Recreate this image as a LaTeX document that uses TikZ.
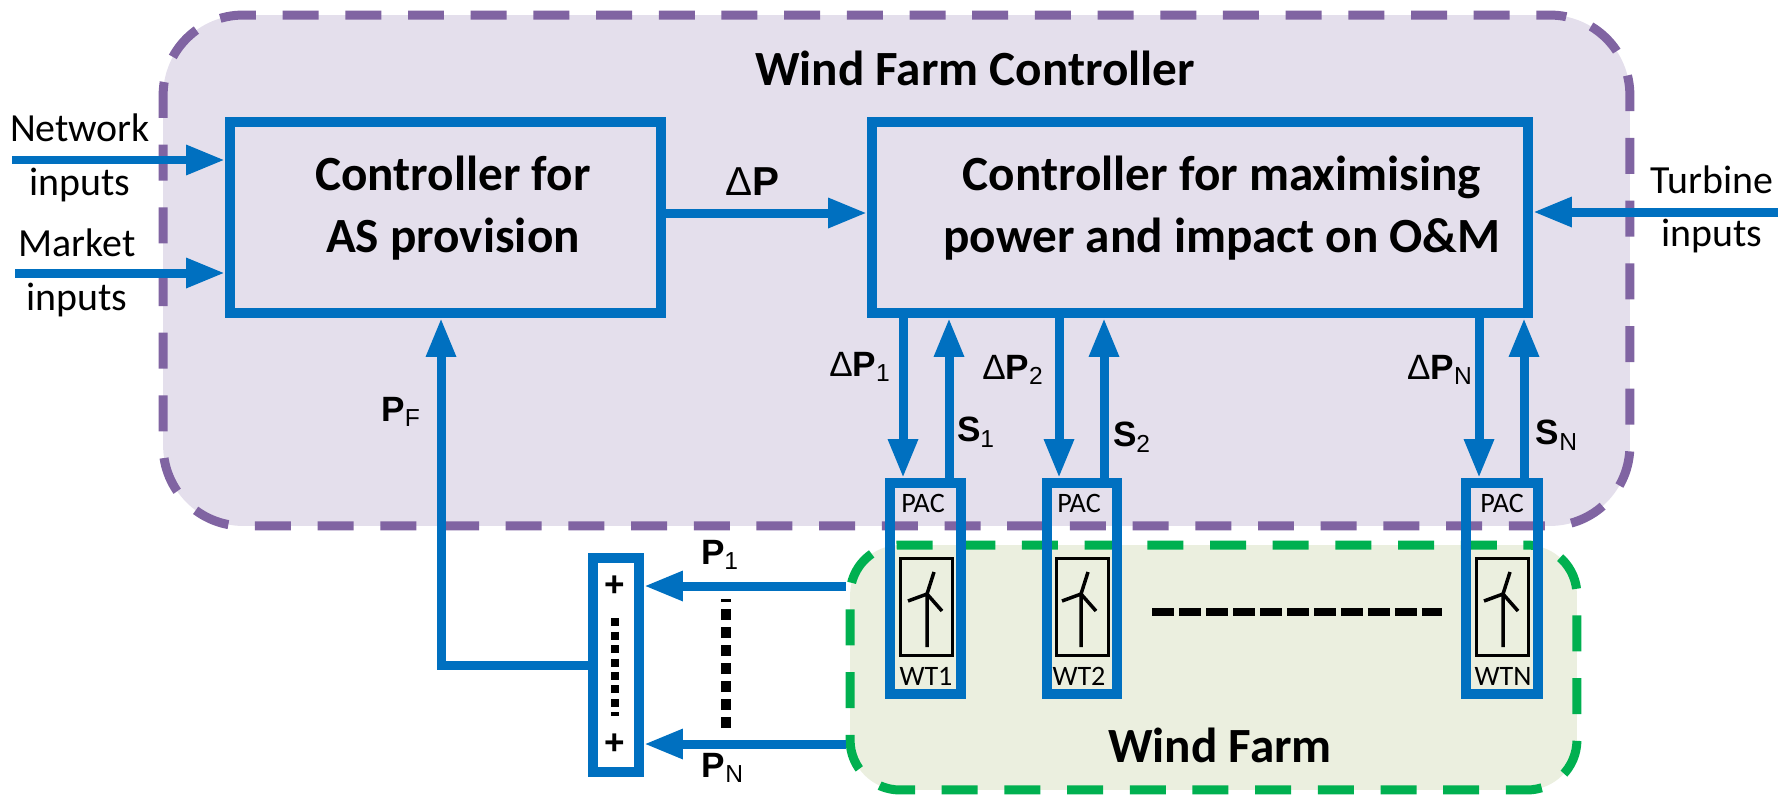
\documentclass[tikz,border=0pt]{standalone}
\usepackage{fontspec}
\setmainfont{Carlito}
\newfontfamily\arialfont{Liberation Sans}
\usepackage{xcolor}
\usetikzlibrary{arrows.meta}
\definecolor{acblue}{HTML}{0070C0}
\definecolor{acpurple}{HTML}{8064A2}
\definecolor{acgreen}{HTML}{00B050}
\definecolor{lilac}{HTML}{E4DFEC}
\definecolor{sage}{HTML}{EBEFDF}
\newcommand{\subs}[1]{\textsubscript{\mdseries #1}}
\tikzset{
  ctlarea/.style ={rectangle, rounded corners=1.6cm, draw=acpurple, fill=lilac, line width=0.18cm,
                   dash pattern=on 0.72cm off 0.534cm, dash phase=0.45cm},
  farmarea/.style={rectangle, rounded corners=1cm, draw=acgreen, fill=sage, line width=0.18cm,
                   dash pattern=on 0.72cm off 0.534cm, dash phase=0.65cm},
  blk/.style     ={rectangle, draw=acblue, line width=0.2cm, inner sep=0pt},
  wtbox/.style   ={rectangle, draw=black, line width=0.06cm, inner sep=0pt,
                   minimum width=1.04cm, minimum height=1.96cm},
  wtline/.style  ={draw=black, line width=0.07cm},
  arr/.style     ={-{Triangle[length=0.78cm,width=0.56cm]}, draw=acblue, line width=0.18cm},
  dotsum/.style  ={draw=black, line width=0.15cm, dash pattern=on 0.16cm off 0.11cm},
  dotgap/.style  ={draw=black, line width=0.2cm, dash pattern=on 0.22cm off 0.14cm},
  dotrow/.style  ={draw=black, line width=0.16cm, dash pattern=on 0.44cm off 0.1cm},
  txt/.style     ={align=center, inner sep=0pt, font=\fontsize{22.7}{26}\selectfont},
  head/.style    ={align=center, inner sep=0pt, font=\fontsize{28}{35.7}\selectfont\bfseries},
  lbl/.style     ={inner sep=0pt, font=\fontsize{20}{24}\selectfont\arialfont\bfseries},
  tiny/.style    ={inner sep=0pt, font=\fontsize{16}{18}\selectfont},
}
\begin{document}
\begin{tikzpicture}[x=0.02cm,y=-0.02cm]
  \useasboundingbox (0,0) rectangle (1787,794);

  % dashed areas
  \node[ctlarea, minimum width=29.34cm, minimum height=10.22cm] (wfc) at (896.5,270.5) {};
  \node[farmarea, minimum width=14.54cm, minimum height=4.9cm] (farm) at (1213.5,667.5) {};
  \node[head] (twfc) at (975,68) {Wind Farm Controller};
  \node[head] (tfarm) at (1220,745) {Wind Farm};

  % controllers
  \node[blk, minimum width=8.62cm, minimum height=3.82cm] (ctrlas) at (445.5,217.5) {};
  \node[blk, minimum width=13.12cm, minimum height=3.82cm] (ctrlmax) at (1200,217.5) {};
  \node[head] (tas) at (453,208) {Controller for\\AS provision};
  \node[head] (tmax) at (1222,208) {Controller for maximising\\power and impact on O\&M};

  % turbine columns
  \node[blk, minimum width=1.42cm, minimum height=4.22cm] (pac1) at (925.5,588.5) {};
  \node[blk, minimum width=1.40cm, minimum height=4.22cm] (pac2) at (1082,588.5) {};
  \node[blk, minimum width=1.44cm, minimum height=4.22cm] (pacn) at (1502,588.5) {};
  \node[tiny] (tpac1) at (923,503) {PAC};
  \node[tiny] (tpac2) at (1079,503) {PAC};
  \node[tiny] (tpacn) at (1502,503) {PAC};
  \node[tiny] (twt1) at (926,676) {WT1};
  \node[tiny] (twt2) at (1079,676) {WT2};
  \node[tiny] (twtn) at (1503,676) {WTN};
  \node[wtbox] (wt1) at (926,607) {};
  \node[wtbox] (wt2) at (1082,607) {};
  \node[wtbox] (wtn) at (1502,607) {};
  \draw[wtline] (927,647) -- ++(0,-53) coordinate (hub1) -- ++(7,-22) (hub1) -- ++(-19,7) (hub1) -- ++(15,17);
  \draw[wtline] (1081,647) -- ++(0,-53) coordinate (hub2) -- ++(7,-22) (hub2) -- ++(-19,7) (hub2) -- ++(15,17);
  \draw[wtline] (1503,647) -- ++(0,-53) coordinate (hubn) -- ++(7,-22) (hubn) -- ++(-19,7) (hubn) -- ++(15,17);
  \draw[dotrow] (1152,612) -- (1442,612);

  % summing block
  \node[blk, minimum width=0.92cm, minimum height=4.28cm] (sumbox) at (616,665) {};
  \node[lbl] (plus1) at (615,586) {+};
  \node[lbl] (plusn) at (615,744) {+};
  \draw[dotsum] (615,618) -- (615,716);
  \draw[dotgap] (726,728) -- (726,599);

  % inputs
  \coordinate (netin) at (12,160);
  \coordinate (mktin) at (15,273);
  \coordinate (turbin) at (1778,212);
  \draw[arr] (netin) -- (netin -| ctrlas.west);
  \draw[arr] (mktin) -- (mktin -| ctrlas.west);
  \draw[arr] (turbin) -- (turbin -| ctrlmax.east);
  \node[txt] (tnet) at (80,128) {Network};
  \node[txt] (tnetin) at (80,185) {inputs};
  \node[txt] (tmkt) at (77,243) {Market};
  \node[txt] (tmktin) at (77,300) {inputs};
  \node[txt] (ttur) at (1712,180) {Turbine};
  \node[txt] (tturin) at (1712,236) {inputs};

  % arrows
  \draw[arr] ([yshift=0.09cm]ctrlas.east) -- ([yshift=0.09cm]ctrlmax.west);
  \draw[arr] (sumbox.west) -| ([xshift=-0.09cm]ctrlas.south);
  \draw[arr] (plus1 -| farm.west) -- (plus1 -| sumbox.east);
  \draw[arr] (plusn -| farm.west) -- (plusn -| sumbox.east);
  \draw[arr] ([xshift=-0.45cm]ctrlmax.south -| pac1.north) -- ([xshift=-0.45cm]pac1.north);
  \draw[arr] ([xshift=0.47cm]pac1.north) -- ([xshift=0.47cm]ctrlmax.south -| pac1.north);
  \draw[arr] ([xshift=-0.46cm]ctrlmax.south -| pac2.north) -- ([xshift=-0.46cm]pac2.north);
  \draw[arr] ([xshift=0.44cm]pac2.north) -- ([xshift=0.44cm]ctrlmax.south -| pac2.north);
  \draw[arr] ([xshift=-0.46cm]ctrlmax.south -| pacn.north) -- ([xshift=-0.46cm]pacn.north);
  \draw[arr] ([xshift=0.44cm]pacn.north) -- ([xshift=0.44cm]ctrlmax.south -| pacn.north);

  % signal labels
  \node[lbl, font=\fontsize{23}{26}\selectfont\arialfont\bfseries] (ldp) at (752,182) {{\mdseries\symbol{"0394}}P};
  \node[lbl] (ldp1) at (860,367) {{\mdseries\symbol{"0394}}P\subs{1}};
  \node[lbl] (ldp2) at (1013,370) {{\mdseries\symbol{"0394}}P\subs{2}};
  \node[lbl] (ldpn) at (1440,370) {{\mdseries\symbol{"0394}}P\subs{N}};
  \node[lbl] (ls1) at (976,432) {S\subs{1}};
  \node[lbl] (ls2) at (1132,437) {S\subs{2}};
  \node[lbl] (lsn) at (1557,435) {S\subs{N}};
  \node[lbl] (lpf) at (401,412) {P\subs{F}};
  \node[lbl] (lp1) at (720,555) {P\subs{1}};
  \node[lbl] (lpn) at (723,768) {P\subs{N}};
\end{tikzpicture}
\end{document}
